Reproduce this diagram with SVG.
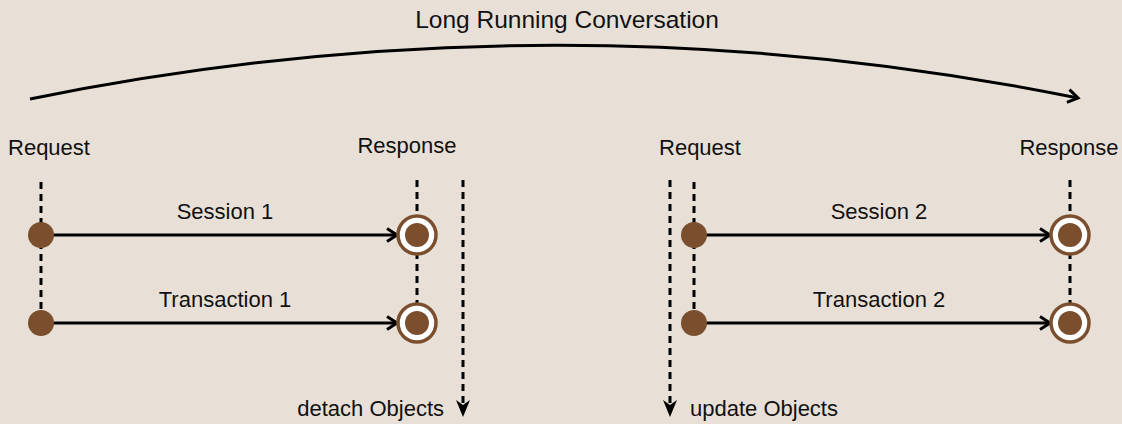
<svg xmlns="http://www.w3.org/2000/svg" width="1122" height="424" viewBox="0 0 1122 424">
<defs>
<style>
text{font-family:"Liberation Sans",Arial,sans-serif;font-size:22px;fill:#111}
text.title{font-size:24.5px}
.dash{stroke:#000;stroke-width:3;stroke-dasharray:7,5;fill:none}
.line{stroke:#000;stroke-width:3;fill:none}
.start{fill:#7b4f2e}
.endo{fill:#fff;stroke:#7b4f2e;stroke-width:3.5}
.endi{fill:#7b4f2e}
.head{fill:#000}
</style>
<marker id="arr" markerWidth="16" markerHeight="16" refX="12" refY="8" orient="auto" markerUnits="userSpaceOnUse">
<path d="M2,1.5 L12,8 L2,14.5" fill="none" stroke="#000" stroke-width="3"/>
</marker>
</defs>
<rect width="1122" height="424" fill="#e8e0d7"/>
<g id="connectors">
<path class="line" d="M30,99 Q555,-8 1078,98" marker-end="url(#arr)"/>
<line class="dash" x1="41" y1="182" x2="41" y2="320"/>
<line class="dash" x1="417" y1="180" x2="417" y2="310"/>
<line class="dash" x1="694" y1="182" x2="694" y2="320"/>
<line class="dash" x1="1070" y1="180" x2="1070" y2="310"/>
<line class="dash" x1="463" y1="180" x2="463" y2="404"/>
<line class="dash" x1="670" y1="180" x2="670" y2="404"/>
<path class="head" d="M456,400 L463,405 L470,400 L463,417 Z"/>
<path class="head" d="M663,400 L670,405 L677,400 L670,417 Z"/>
<line class="line" x1="41" y1="235" x2="397" y2="235" marker-end="url(#arr)"/>
<line class="line" x1="41" y1="323" x2="397" y2="323" marker-end="url(#arr)"/>
<line class="line" x1="694" y1="235" x2="1050" y2="235" marker-end="url(#arr)"/>
<line class="line" x1="694" y1="323" x2="1050" y2="323" marker-end="url(#arr)"/>
</g>
<g id="title"><text class="title" x="567" y="28" text-anchor="middle">Long Running Conversation</text></g>
<g id="req1"><text x="49" y="155" text-anchor="middle">Request</text></g>
<g id="resp1"><text x="407" y="153" text-anchor="middle">Response</text></g>
<g id="req2"><text x="700" y="155" text-anchor="middle">Request</text></g>
<g id="resp2"><text x="1069" y="155" text-anchor="middle">Response</text></g>
<g id="s1start"><circle class="start" cx="41" cy="235" r="13"/></g>
<g id="t1start"><circle class="start" cx="41" cy="323" r="13"/></g>
<g id="s2start"><circle class="start" cx="694" cy="235" r="13"/></g>
<g id="t2start"><circle class="start" cx="694" cy="323" r="13"/></g>
<g id="s1end"><circle class="endo" cx="417" cy="235" r="19"/><circle class="endi" cx="417" cy="235" r="12"/></g>
<g id="t1end"><circle class="endo" cx="417" cy="323" r="19"/><circle class="endi" cx="417" cy="323" r="12"/></g>
<g id="s2end"><circle class="endo" cx="1070" cy="235" r="19"/><circle class="endi" cx="1070" cy="235" r="12"/></g>
<g id="t2end"><circle class="endo" cx="1070" cy="323" r="19"/><circle class="endi" cx="1070" cy="323" r="12"/></g>
<g id="labels">
<text x="225" y="219" text-anchor="middle">Session 1</text>
<text x="225" y="307" text-anchor="middle">Transaction 1</text>
<text x="879" y="219" text-anchor="middle">Session 2</text>
<text x="879" y="307" text-anchor="middle">Transaction 2</text>
<text x="444" y="416" text-anchor="end">detach Objects</text>
<text x="690" y="416">update Objects</text>
</g>
</svg>
